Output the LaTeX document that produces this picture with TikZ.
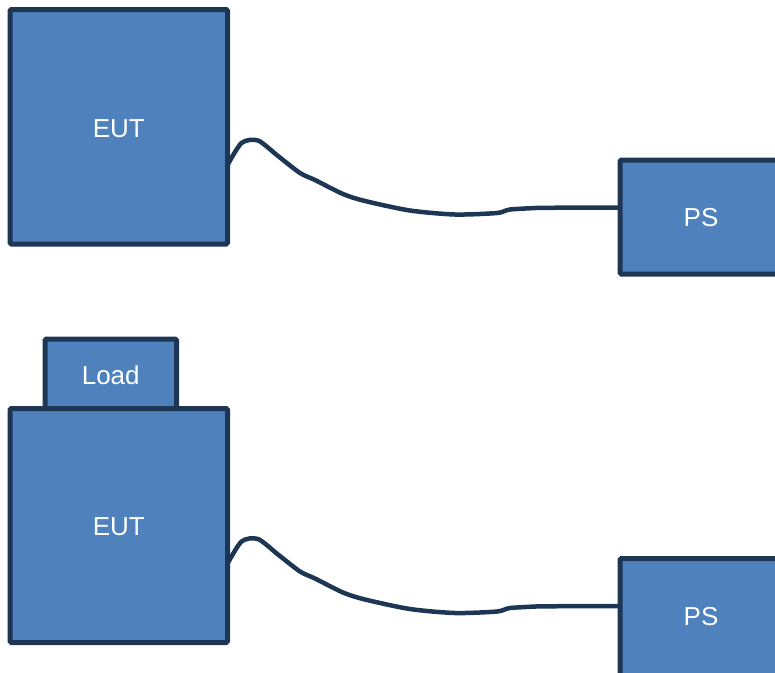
\documentclass[tikz,border=0pt]{standalone}
\usepackage{fontspec}
\setmainfont{Liberation Sans}
\usetikzlibrary{calc}
\definecolor{boxfill}{HTML}{4F81BD}
\definecolor{boxline}{HTML}{1D3654}
\tikzset{
  box/.style={draw=boxline, fill=boxfill, line width=5pt, rounded corners=1.5pt, inner sep=0pt, outer sep=0pt},
  lbl/.style={text=white, font=\fontsize{26}{30}\selectfont, inner sep=0pt},
  cable/.style={draw=boxline, line width=4.5pt, line join=round, line cap=round}
}
\begin{document}
\begin{tikzpicture}[x=1pt,y=-1pt]
\useasboundingbox (0,0) rectangle (775,672);
\clip (0,0) rectangle (775,672);
% top
\node[box, anchor=north west, minimum width=217.5pt, minimum height=234.5pt] (eut1) at (10,9.5) {};
\node[lbl] (t1) at ($(eut1.center)+(0,1.5)$) {EUT};
\node[box, anchor=north west, minimum width=280pt, minimum height=114pt] (ps1) at (620,160) {};
\node[lbl] (p1) at ($(ps1.west)+(81,1)$) {PS};
\coordinate (a1) at (227,166);
\coordinate (b1) at (620,207.5);
\draw[cable] (a1) -- plot[smooth, tension=0.45] coordinates {(227,166) (241.5,143) (258,140.5) (278,156) (300,173) (315,180) (343,194) (365,201) (410,210.5) (455,214.5) (497,213) (510,209.5) (540,207.8)} -- (b1);
% bottom
\node[box, anchor=north west, minimum width=131.5pt, minimum height=69.5pt] (load) at (45,339) {};
\node[lbl] (tl) at ($(load.center)+(0,1)$) {Load};
\node[box, anchor=north west, minimum width=217.5pt, minimum height=234pt] (eut2) at (10,408.5) {};
\node[lbl] (t2) at ($(eut2.center)+(0,1.5)$) {EUT};
\node[box, anchor=north west, minimum width=280pt, minimum height=160pt] (ps2) at (620,558.5) {};
\node[lbl] (p2) at ($(ps2.north west)+(81,58.5)$) {PS};
\coordinate (a2) at (227,564.5);
\coordinate (b2) at (620,606);
\draw[cable] (a2) -- plot[smooth, tension=0.45] coordinates {(227,564.5) (241.5,541.5) (258,539) (278,554.5) (300,571.5) (315,578.5) (343,592.5) (365,599.5) (410,609) (455,613) (497,611.5) (510,608) (540,606.3)} -- (b2);
\end{tikzpicture}
\end{document}
